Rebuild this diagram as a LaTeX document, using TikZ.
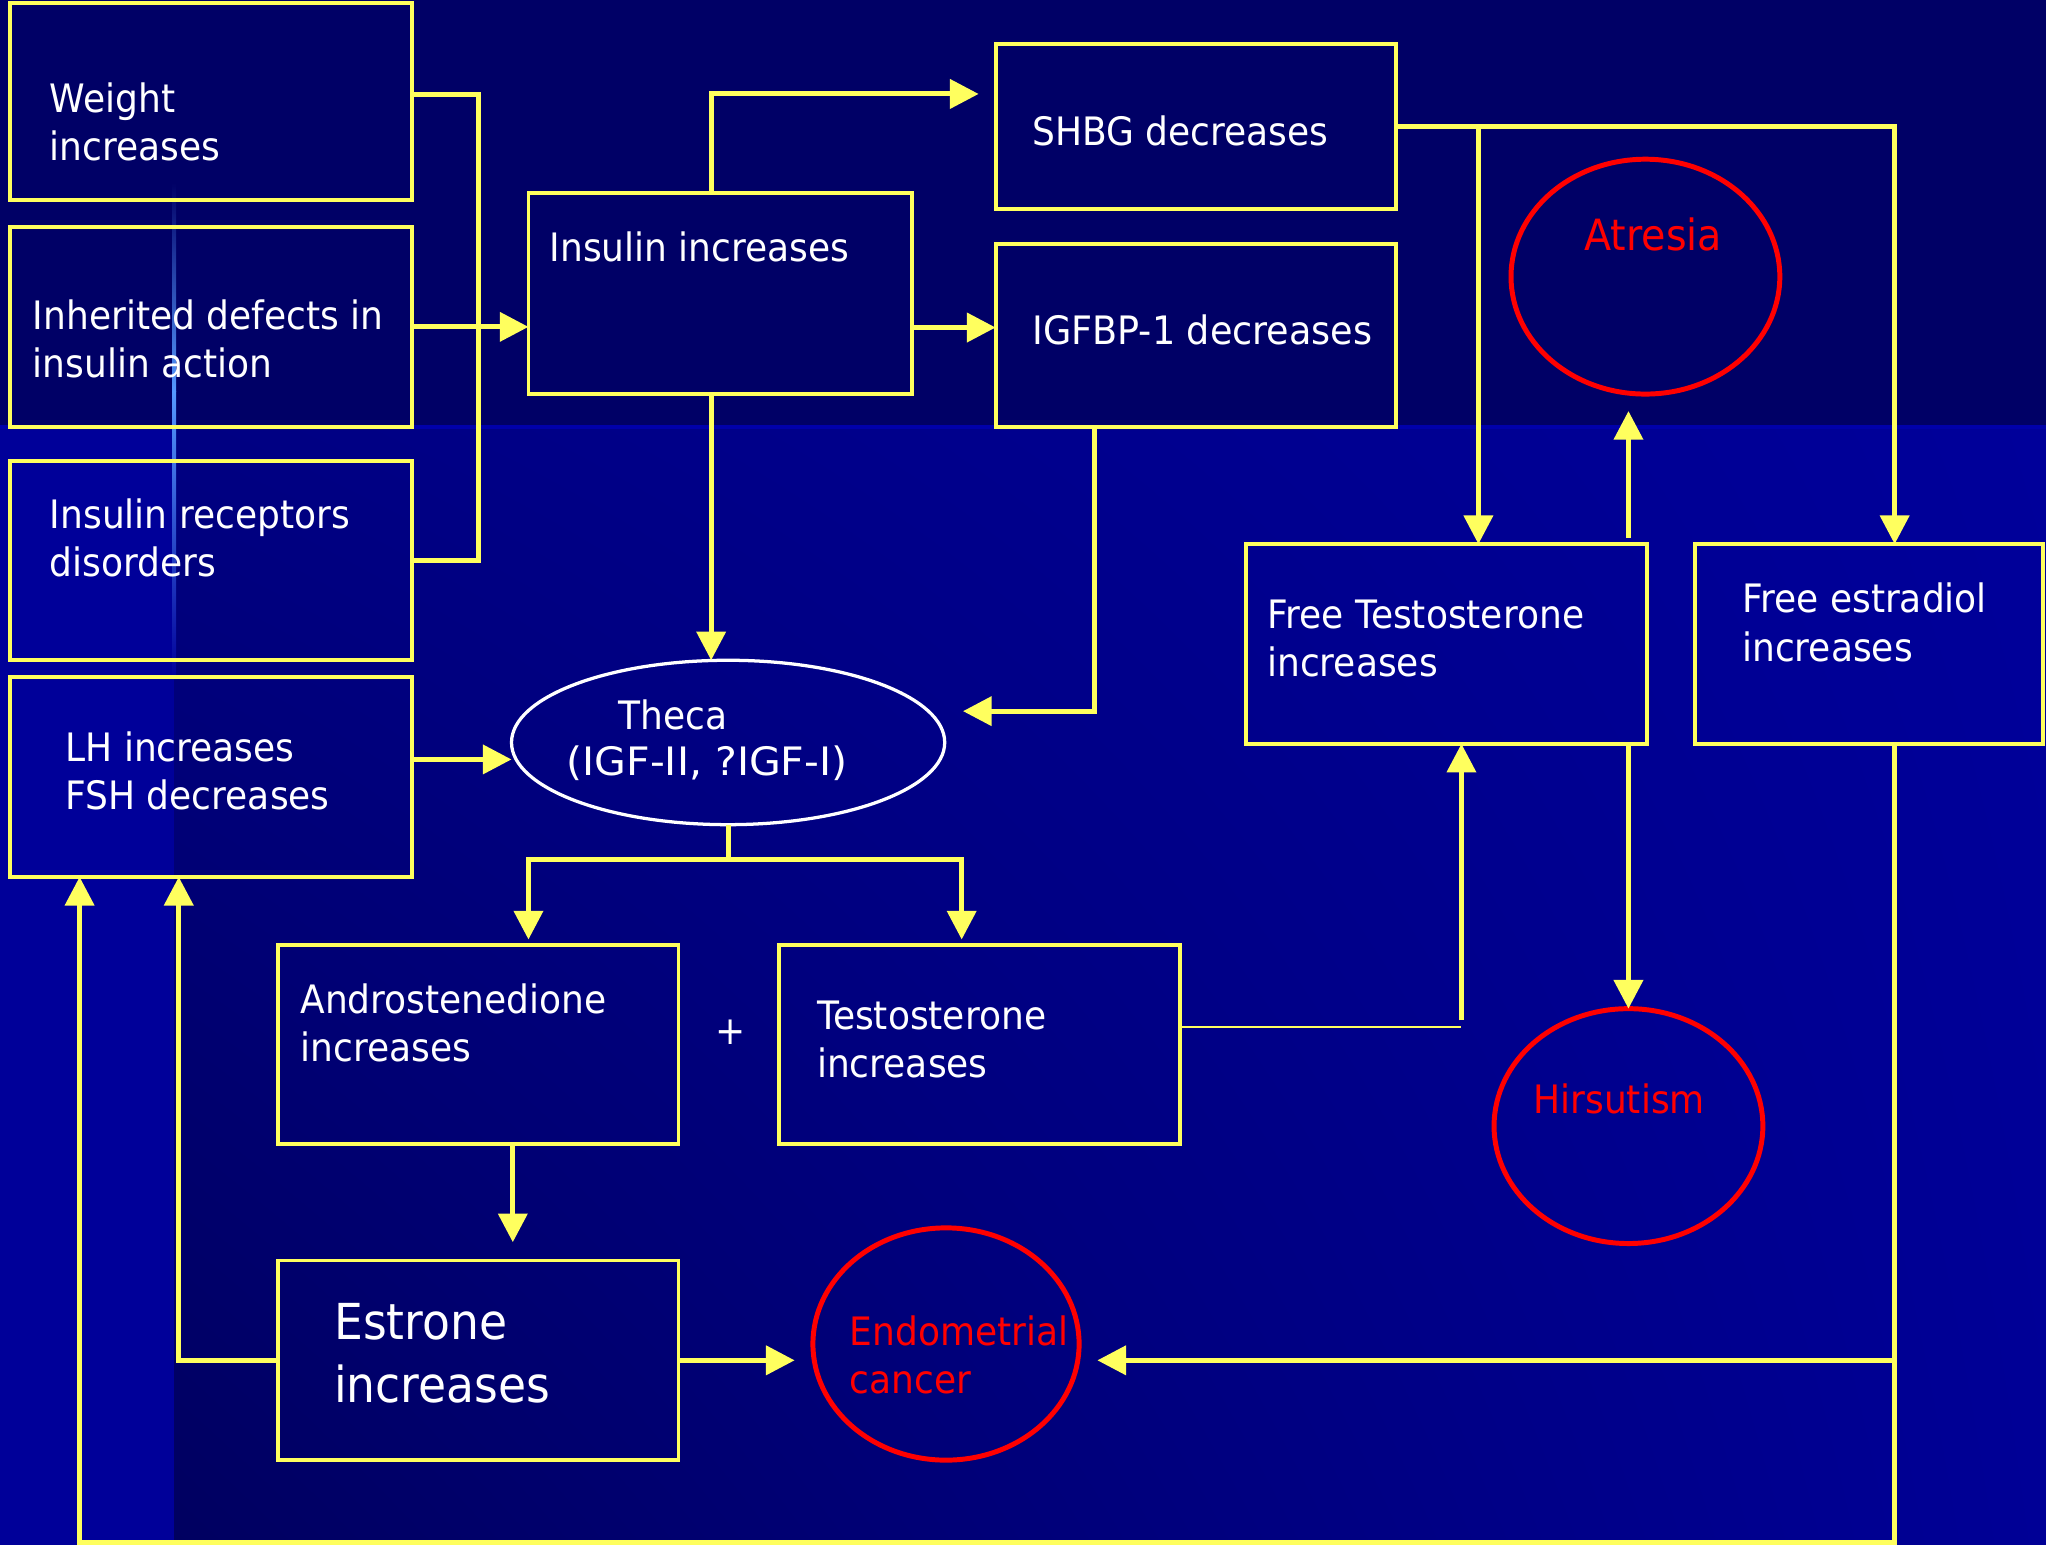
\documentclass[tikz,border=0pt]{standalone}
\usepackage{fontspec}
\usepackage{graphicx}
\setmainfont{DejaVu Sans}[FakeStretch=0.92]
\usetikzlibrary{arrows.meta,calc,shapes.geometric,shadings}
\definecolor{navytop}{HTML}{000066}
\definecolor{navylow}{HTML}{000099}
\definecolor{shUL}{RGB}{0,0,130}
\definecolor{shUR}{RGB}{0,0,154}
\definecolor{shLL}{RGB}{0,0,96}
\definecolor{shLR}{RGB}{0,0,150}
\definecolor{seam}{RGB}{0,0,170}
\definecolor{glint}{HTML}{5599FF}
\definecolor{ylw}{HTML}{FFFF5E}
\definecolor{rd}{HTML}{FF0000}
\begin{document}
\begin{tikzpicture}[x=1pt,y=-1pt,
  box/.style={draw=ylw, line width=3pt, rectangle, inner sep=0pt, outer sep=0pt},
  oval/.style={draw=rd, line width=3.8pt, ellipse, inner sep=0pt, outer sep=0pt},
  ln/.style={draw=ylw, line width=3.8pt},
  thinln/.style={draw=ylw, line width=1.3pt},
  arr/.style={ln, -{Triangle[length=22pt,width=22pt]}},
  txt/.style={text=white, anchor=west, align=left, inner sep=0pt, font=\fontsize{30}{37}\selectfont},
  rtxt/.style={text=rd, anchor=west, align=left, inner sep=0pt, font=\fontsize{30}{37}\selectfont}
]
% background
\useasboundingbox (0,0) rectangle (1568,1184);
\fill[navytop] (0,0) rectangle (1568,1184);
\shade[upper left=shUL, upper right=shUR, lower left=shLL, lower right=shLR]
  (133,327) rectangle (1568,1184);
\fill[navylow] (0,327) rectangle (133,1184);
\fill[seam] (0,326) rectangle (1568,329);
\shade[top color=navytop, bottom color=glint] (132,140) rectangle (135,300);
\shade[top color=glint, bottom color=navylow] (132,300) rectangle (135,520);

% boxes
\node[box, minimum width=308pt, minimum height=151pt] (weight) at (162,77.5) {};
\node[box, minimum width=308pt, minimum height=153pt] (inherited) at (162,250.5) {};
\node[box, minimum width=308pt, minimum height=153pt] (receptors) at (162,429.5) {};
\node[box, minimum width=308pt, minimum height=153pt] (lh) at (162,595.5) {};
\node[box, minimum width=294pt, minimum height=154pt] (insulin) at (552,225) {};
\node[box, minimum width=307pt, minimum height=126pt] (shbg) at (916.5,97) {};
\node[box, minimum width=307pt, minimum height=140pt] (igfbp) at (916.5,257) {};
\node[draw=white, line width=2.5pt, ellipse, inner sep=0pt, outer sep=0pt, minimum width=332pt, minimum height=126pt] (theca) at (558,569) {};
\node[oval, minimum width=206pt, minimum height=180pt] (atresia) at (1261,212) {};
\node[box, minimum width=307pt, minimum height=153pt] (freeT) at (1108.5,493.5) {};
\node[box, minimum width=267pt, minimum height=153pt] (freeE) at (1432.5,493.5) {};
\node[box, minimum width=307pt, minimum height=153pt] (andro) at (366.5,800.5) {};
\node[box, minimum width=307pt, minimum height=153pt] (testo) at (750.5,800.5) {};
\node[oval, minimum width=206pt, minimum height=180pt] (hirs) at (1248,863) {};
\node[box, minimum width=307pt, minimum height=153pt] (estrone) at (366.5,1042.5) {};
\node[oval, minimum width=204pt, minimum height=178pt] (endo) at (725,1030) {};

% texts
\node[txt] (t-weight) at (38,93.5) {Weight\\increases};
\node[txt] (t-inh) at (25,259.5) {Inherited defects in\\insulin action};
\node[txt] (t-rec) at (38,412.5) {Insulin receptors\\disorders};
\node[txt] (t-lh) at (50,591) {LH increases\\FSH decreases};
\node[txt] (t-ins) at (421,189) {Insulin increases};
\node[txt] (t-shbg) at (791,100) {SHBG decreases};
\node[txt] (t-igf) at (791,253) {\scalebox{1.015}[1]{IGFBP-1 decreases}};
\node[txt] (t-theca1) at (474,548) {Theca};
\node[txt] (t-theca2) at (434,585) {\scalebox{1.14}[1]{(IGF-II, ?IGF-I)}};
\node[rtxt, font=\fontsize{33}{40}\selectfont] (t-atr) at (1214,180) {Atresia};
\node[txt] (t-freeT) at (971,489.5) {Free Testosterone\\increases};
\node[txt] (t-freeE) at (1335,477) {Free estradiol\\increases};
\node[txt] (t-andro) at (230,784) {Androstenedione\\increases};
\node[txt, anchor=center] (t-plus) at (560,791) {+};
\node[txt] (t-testo) at (626,796.5) {Testosterone\\increases};
\node[rtxt] (t-hirs) at (1175,842) {Hirsutism};
\node[txt, font=\fontsize{38}{48}\selectfont] (t-estr) at (256,1037) {Estrone\\increases};
\node[rtxt] (t-endo) at (651,1038.5) {Endometrial\\cancer};

% helper coordinates
\path (endo.west) ++(-14,0) coordinate (endoL);
\path (endo.east) ++(14,0) coordinate (endoR);
\path (atresia.south) ++(0,13) coordinate (atrB);

% connectors
\draw[ln] ([yshift=5pt]weight.east) -| ($(receptors.east)+(51,0)$) -- (receptors.east);
\draw[arr] (inherited.east) -- (inherited.east -| insulin.west);
\draw[arr] ([xshift=-7pt]insulin.north) |- ($(shbg.west)+(-13,-25)$);
\draw[arr] ([yshift=-26pt]insulin.east) -- ([yshift=-26pt]insulin.east -| igfbp.west);
\draw[arr] ([xshift=-7pt]insulin.south) -- ([xshift=-7pt]insulin.south |- theca.north);
\draw[arr] ([xshift=-77.5pt]igfbp.south) |- ($(theca.east)+(14,-24)$);
\draw[arr] ([yshift=13.5pt]lh.east) -- ([yshift=13.5pt]lh.east -| theca.west);
\draw[ln] (theca.south) -- ++(0,27) coordinate (split);
\draw[arr] (split) -| ([xshift=38.5pt,yshift=4pt]andro.north);
\draw[arr] (split) -| ([xshift=-13.5pt,yshift=4pt]testo.north);
\draw[arr] ([xshift=26.5pt]andro.south) -- ([xshift=26.5pt,yshift=14pt]estrone.north);
\draw[arr] (estrone.east) -- (estrone.east -| endoL);
\draw[arr] (estrone.west) -| ([xshift=-25pt]lh.south);
\draw[arr] ([xshift=19.5pt]freeE.south) -- ++(0,612) -| ([xshift=-101pt]lh.south);
\draw[arr] ([xshift=19.5pt]freeE.south |- estrone.east) -- (estrone.east -| endoR);
\draw[arr] (shbg.east) -| ([xshift=19.5pt]freeE.north);
\draw[arr] ([xshift=24.5pt]freeT.north |- shbg.east) -- ([xshift=24.5pt]freeT.north);
\draw[arr] ([xshift=139.5pt,yshift=5pt]freeT.north) -- ([xshift=139.5pt]freeT.north |- atrB);
\draw[arr] ([xshift=139.5pt]freeT.south) -- ([xshift=139.5pt]freeT.south |- hirs.north);
\draw[thinln] ([yshift=13.5pt]testo.east) -- ([yshift=13.5pt,xshift=11.5pt]testo.east -| freeT.south) coordinate (tj);
\draw[arr] ([yshift=18.5pt,xshift=11.5pt]testo.east -| freeT.south) -- ([xshift=11.5pt]freeT.south);
\end{tikzpicture}
\end{document}
